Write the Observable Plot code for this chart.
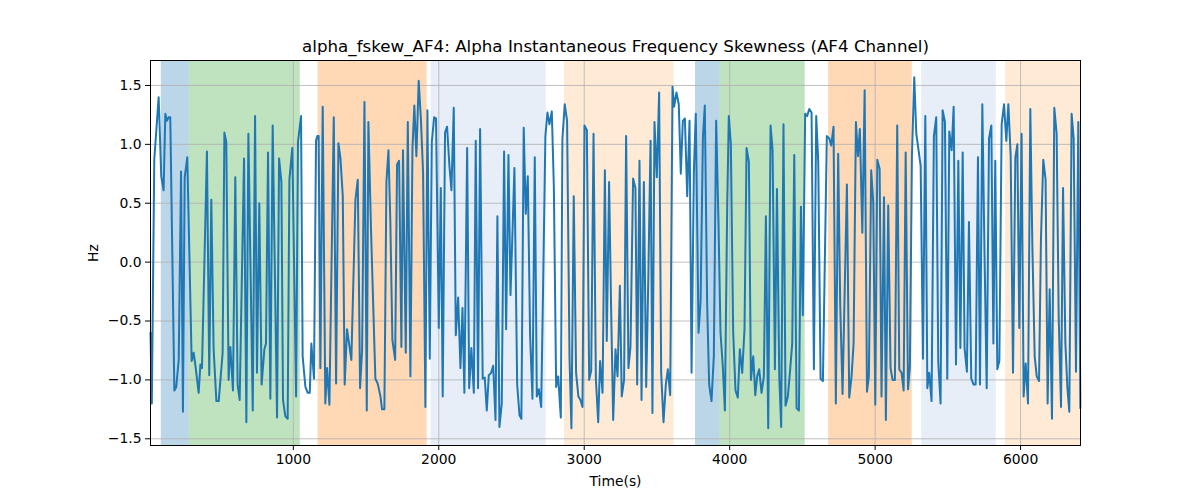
<!DOCTYPE html>
<html>
<head>
<meta charset="utf-8">
<script src="https://cdn.jsdelivr.net/npm/d3@7"></script>
<script src="https://cdn.jsdelivr.net/npm/@observablehq/plot@0.6"></script>
<style>
  html, body { margin: 0; padding: 0; background: white; }
</style>
</head>
<body>
<div id="chart"></div>
<script>
const title = "alpha_fskew_AF4: Alpha Instantaneous Frequency Skewness (AF4 Channel)";
const xLabel = "Time(s)";
const yLabel = "Hz";
const xTicks = [1000, 2000, 3000, 4000, 5000, 6000];
const yTicks = [-1.5, -1.0, -0.5, 0.0, 0.5, 1.0, 1.5];

const times = [
18,27,44,74,92,108,120,131,143,154,182,195,212,228,241,253,271,301,315,328,349,361,372,406,422,436,452,471,487,514,526,539,555,567,585,601,617,631,661,677,691,721,737,750,766,782,801,812,826,842,858,
888,902,918,929,945,961,973,993,1019,1032,1053,1064,1083,1099,1113,1124,1142,1156,1165,1174,1186,1202,1220,1232,1248,1278,1294,1310,1324,1340,1353,1369,1383,1399,1427,1443,1459,1473,1489,1505,1516,1534,1564,1580,1599,1610,1626,1640,1654,1667,1681,1700,
1713,1727,1743,1754,1773,1787,1805,1819,1832,1846,1862,1878,1892,1908,1922,1938,1952,1968,1981,2000,2014,2027,2043,2057,2073,2087,2103,2117,2133,2149,2163,2176,2195,2209,2224,2241,2254,2270,2284,2302,2316,2330,2344,2360,2374,2390,2403,2417,2433,2449,2463,2479,2493,2509,2520,
2539,2555,2568,2584,2598,2612,2628,2644,2660,2674,2688,2704,2717,2733,2747,2761,2777,2791,2807,2821,2839,2850,2866,2882,2899,2912,2928,2944,2960,2974,2988,3002,3018,3034,3048,3064,3080,3096,3109,3126,3142,3155,3171,3185,3199,3215,3229,3245,3258,3274,3288,3304,3318,3336,3352,
3364,3380,3394,3410,3426,3440,3456,3469,3483,3499,3515,3529,3545,3561,3575,3591,3607,3618,3634,3650,3664,3678,3692,3708,3724,3738,3754,3767,3786,3800,3816,3829,3845,3859,3875,3891,3907,3923,3937,3953,3967,3983,3994,4008,4024,4040,4056,4070,4086,4102,4116,4132,4146,4162,4176,
4189,4203,4219,4235,4249,4265,4281,4295,4311,4325,4341,4354,4370,4384,4400,4416,4430,4444,4460,4476,4490,4503,4519,4533,4547,4563,4579,4595,4609,4625,4641,4668,4685,4698,4714,4730,4746,4760,4776,4806,4822,4838,4852,4868,4882,4895,4912,4928,4944,4957,4973,4987,5001,
5015,5031,5044,5061,5074,5090,5106,5120,5136,5152,5166,5182,5196,5210,5226,5239,5253,5269,5283,5313,5329,5345,5359,5372,5388,5404,5420,5434,5450,5464,5480,5496,5510,5526,5540,5556,5572,5586,5602,5615,5631,5645,5661,5677,5691,5707,5721,5737,5753,5767,5783,5799,5813,5826,
5840,5854,5870,5886,5902,5916,5932,5948,5964,5978,5991,6007,6021,6035,6051,6067,6081,6097,6111,6127,6140,6156,6172,6186,6200,6216,6232,6248,6262,6278,6292,6308,6322,6335,6351,6365,6381,6397,6411
];

const values = [
-0.60,-1.20,0.87,1.40,0.73,0.61,1.26,1.20,1.23,1.23,-1.09,-1.06,-0.83,0.77,-1.27,0.72,0.89,-0.84,-0.77,-0.89,-1.11,-0.87,-0.90,0.94,-0.96,0.53,-0.74,-1.18,-1.18,-0.77,1.10,1.02,-1.00,-0.72,-1.09,0.72,-1.04,-1.17,0.88,-1.36,1.09,-1.26,1.24,-0.94,0.50,-1.04,-0.74,-0.69,0.93,-1.16,1.16,
-1.32,0.88,0.68,-1.17,-1.31,-1.33,0.70,0.97,-1.14,1.02,1.24,-0.80,-1.06,-1.11,-1.11,-0.69,-0.99,1.03,1.07,1.07,-0.90,1.32,-1.20,-0.90,-1.21,1.23,-1.03,1.01,0.88,0.56,-1.04,-0.57,-0.69,-0.83,0.53,0.70,-1.07,-0.74,1.36,-1.26,1.19,0.28,-0.99,-1.03,-1.14,-1.25,-1.25,0.68,0.95,0.34,-0.66,-0.83,
0.83,0.86,-0.72,0.95,-0.77,1.19,-0.97,0.96,1.33,0.90,1.54,1.19,0.76,-1.23,1.29,-0.82,1.02,1.23,1.22,-0.56,0.63,-1.14,1.10,1.15,0.82,0.61,1.31,-0.62,-0.30,-0.90,-0.39,-1.11,0.97,-1.07,-0.73,-1.11,1.03,-1.07,1.13,-0.99,-0.98,-1.26,-0.96,-0.94,-0.88,-1.34,0.39,-1.40,-1.20,0.94,-0.57,0.91,-0.28,0.34,0.80,
-1.04,-1.30,-1.33,1.14,0.41,0.73,-0.63,-1.16,0.89,-1.14,-1.08,-1.23,-0.23,1.07,1.27,1.17,1.28,0.65,-1.06,-0.97,-1.32,1.05,1.34,1.20,-0.82,-1.41,0.56,-0.94,-1.14,-1.17,-1.23,1.16,1.12,-1.00,-0.92,1.09,-0.99,-1.36,-0.84,-1.11,0.78,-0.67,0.68,-0.40,-1.34,-0.74,-0.97,-0.20,-1.14,-1.00,1.07,-0.90,-0.72,0.71,0.63,
-1.04,0.86,-1.17,0.68,-1.06,-0.18,1.03,-1.28,1.19,0.72,1.44,-0.94,-1.36,-1.04,-0.91,-1.13,1.49,1.32,1.44,1.34,0.75,1.20,1.22,0.56,1.20,-0.94,0.78,1.26,-0.60,-0.33,1.06,1.33,-0.35,-1.04,-1.18,-0.80,1.20,0.34,-0.60,-0.89,-1.26,0.48,1.24,1.00,-0.59,-1.09,-1.15,-0.74,-0.94,-0.57,0.97,0.85,-1.00,-0.80,-1.13,
-0.97,-0.91,-1.11,-0.97,0.39,-1.41,1.16,0.95,-0.91,0.62,-0.97,-1.40,1.17,-1.22,-1.14,-0.91,-0.69,0.91,-1.24,-1.26,0.47,-0.45,1.26,1.24,1.30,1.27,-0.91,1.24,0.85,-0.99,-1.01,1.07,1.05,0.99,1.15,-1.20,0.92,-0.36,-1.12,0.66,-1.15,-0.97,-0.69,1.19,0.90,1.13,0.25,1.46,-1.10,-0.97,0.78,0.51,-1.21,
0.87,0.79,-1.14,0.55,-1.34,0.48,-0.90,-1.00,-1.00,1.16,-0.91,-0.94,-1.09,0.93,-1.08,-0.89,0.90,1.57,1.09,0.82,-0.82,1.24,-1.07,-0.94,-1.18,1.07,1.23,-0.85,-1.20,1.29,1.19,-0.99,1.11,0.95,1.32,-0.87,0.86,-0.73,0.93,-0.73,-0.93,0.34,-0.99,-1.04,-1.04,0.89,-1.04,1.34,0.00,-1.07,1.05,1.16,-0.69,0.86,
-0.91,-0.84,1.17,1.34,1.03,1.34,0.90,-0.94,0.89,1.00,-0.56,1.09,-1.14,-0.86,-1.20,1.30,0.14,-0.80,-0.97,-1.01,0.19,0.87,0.70,-1.20,-0.23,-1.33,1.31,1.09,-0.46,-1.23,0.63,-0.69,-1.07,-1.27,1.26,1.05,-0.93,1.19,-1.24
];

const spanStart = [92, 285, 1170, 1947, 2864, 3765, 3932, 4680, 5320, 5897];
const spanEnd   = [285, 1048, 1920, 2738, 3618, 3932, 4519, 5255, 5833, 6412];
const spanKind  = ["blue", "green", "orange", "lightblue", "lightorange", "blue", "green", "orange", "lightblue", "lightorange"];
const kindNames = ["blue", "green", "orange", "lightblue", "lightorange"];
const kindColors = ["#1f77b4", "#2ca02c", "#ff7f0e", "#aec7e8", "#ffbb78"];

const data = times.map((t, i) => ({t, v: values[i]}));
const spans = spanStart.map((s, i) => ({s, e: spanEnd[i], k: spanKind[i]}));

const fmtY = d3.format(".1f");
const grid = {stroke: "#b0b0b0", strokeOpacity: 1, strokeWidth: 0.8};

const chart = Plot.plot({
  width: 1200,
  height: 500,
  marginLeft: 150,
  marginRight: 120,
  marginTop: 60,
  marginBottom: 55,
  style: {fontFamily: "DejaVu Sans", fontSize: "13.9px", color: "black", background: "white"},
  x: {domain: [18, 6412]},
  y: {domain: [-1.557, 1.712]},
  color: {type: "ordinal", domain: kindNames, range: kindColors},
  marks: [
    Plot.rect(spans, {x1: "s", x2: "e", fill: "k", fillOpacity: 0.3}),
    Plot.gridX(xTicks, grid),
    Plot.gridY(yTicks, grid),
    Plot.line(data, {x: "t", y: "v", stroke: "#1f77b4", strokeWidth: 2}),
    Plot.frame({stroke: "black", strokeWidth: 1}),
    Plot.axisX(xTicks, {tickSize: 5, tickPadding: 4, label: null, tickFormat: d3.format("d"), fontSize: 13.9}),
    Plot.axisY(yTicks, {tickSize: 5, tickPadding: 4, label: null, tickFormat: fmtY, fontSize: 13.9}),
    Plot.text([title], {text: d => d, frameAnchor: "top", dy: -14, lineAnchor: "middle", textAnchor: "middle", fontSize: 16.7}),
    Plot.text([xLabel], {text: d => d, frameAnchor: "bottom", dy: 36, lineAnchor: "middle", textAnchor: "middle", fontSize: 13.9}),
    Plot.text([yLabel], {text: d => d, frameAnchor: "left", dx: -57, rotate: -90, lineAnchor: "middle", textAnchor: "middle", fontSize: 13.9})
  ]
});
document.getElementById("chart").appendChild(chart);
</script>
</body>
</html>
